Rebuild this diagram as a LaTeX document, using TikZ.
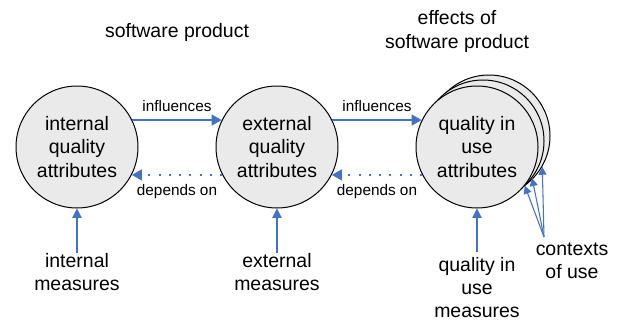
\documentclass[tikz,border=0pt]{standalone}
\usepackage{fontspec}
\setmainfont{Liberation Sans}
\usetikzlibrary{arrows.meta, calc}

\definecolor{linkblue}{HTML}{4472C4}
\definecolor{bubblegray}{HTML}{EAEAEA}

\tikzset{
  bubble/.style={circle, draw=black, line width=0.75pt, fill=bubblegray, minimum size=91.5pt, inner sep=0pt, align=center, font=\fontsize{14.6}{17.3}\selectfont},
  caption/.style={align=center, inner sep=0pt, font=\fontsize{14.6}{17.3}\selectfont},
  linklabel/.style={font=\fontsize{11.5}{13}\selectfont, inner sep=2pt},
  flow/.style={draw=linkblue, line width=1.5pt, -{Triangle[length=7.5pt,width=8pt]}},
  backflow/.style={draw=linkblue, line width=1.5pt, dash pattern=on 1.5pt off 6.2pt, -{Triangle[length=7.5pt,width=8pt]}},
  measure/.style={draw=linkblue, line width=0.8pt, -{Triangle[length=7pt,width=7pt]}},
  ctxarrow/.style={draw=linkblue, line width=0.8pt, -{Triangle[length=6pt,width=6pt]}},
}

\begin{document}
\begin{tikzpicture}[x=0.75pt, y=-0.75pt]
        \useasboundingbox (0,0) rectangle (621,322);

        % headings
        \node[caption] (swprod) at (177,32) {software product};
        \node[caption] (effects) at (457,31.5) {effects of\\software product};

        % attribute bubbles
        \node[bubble] (intq) at (77,147) {internal\\quality\\attributes};
        \node[bubble] (extq) at (277,147) {external\\quality\\attributes};
        \node[bubble] (quse3) at (489,136) {};
        \node[bubble] (quse2) at (483,141) {};
        \node[bubble] (quse) at (477,147) {quality in\\use\\attributes};

        % influences / depends on
        \draw[flow] (intq.26) -- node[linklabel, above=3.5pt] {influences} (extq.154);
        \draw[flow] (extq.26) -- node[linklabel, above=3.5pt] {influences} (quse.154);
        \draw[backflow] (extq.-153) -- node[linklabel, below=4.5pt] {depends on} (intq.-27);
        \draw[backflow] (quse.-153) -- node[linklabel, below=4.5pt] {depends on} (extq.-27);

        % measures
        \node[caption, anchor=north] (intm) at (77,253) {internal\\measures};
        \node[caption, anchor=north] (extm) at (277,253) {external\\measures};
        \node[caption, anchor=north] (qium) at (477,257) {quality in\\use\\measures};

        \draw[measure] (intm.north) -- (intq.south);
        \draw[measure] (extm.north) -- (extq.south);
        \draw[measure] ($(qium.north)+(0,-5)$) -- (quse.south);

        % contexts of use
        \node[caption, anchor=north] (ctx) at (572,243) {contexts\\of use};
        \coordinate (ctxsrc) at (544,237);
        \draw[ctxarrow] (ctxsrc) -- (quse.-39);
        \draw[ctxarrow] (ctxsrc) -- (quse2.-37);
        \draw[ctxarrow] (ctxsrc) -- (quse3.-30);
\end{tikzpicture}
\end{document}
